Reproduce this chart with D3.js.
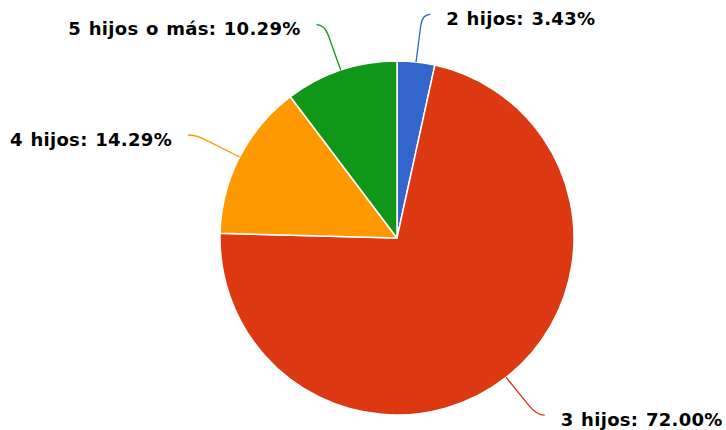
<!DOCTYPE html>
<html>
<head>
<meta charset="utf-8">
<script src="https://cdn.jsdelivr.net/npm/d3@7"></script>
<style>
  body { margin: 0; background: #fff; }
  text { font-family: "DejaVu Sans", sans-serif; font-weight: bold; }
</style>
</head>
<body>
<div id="chart"></div>
<script>
// data
const categories = ["2 hijos", "3 hijos", "4 hijos", "5 hijos o más"];
const values = [3.43, 72.00, 14.29, 10.29];
const colors = ["#3366cc", "#dc3912", "#ff9900", "#109618"];

const width = 726, height = 430;
const cx = 397, cy = 238, radius = 177;
const labelRadius = 225;

const svg = d3.select("#chart").append("svg")
    .attr("width", width)
    .attr("height", height);

const g = svg.append("g")
    .attr("transform", "translate(" + cx + "," + cy + ")");

const data = categories.map((c, i) => ({ name: c, value: values[i], color: colors[i] }));

const pie = d3.pie()
    .sort(null)
    .value(d => d.value);

const arc = d3.arc()
    .innerRadius(0)
    .outerRadius(radius);

const arcs = pie(data);

g.selectAll("path.slice")
    .data(arcs)
    .enter().append("path")
    .attr("class", "slice")
    .attr("d", arc)
    .attr("fill", d => d.data.color)
    .attr("stroke", "#fff")
    .attr("stroke-width", 1.5)
    .attr("stroke-linejoin", "round");

// labels + connectors
arcs.forEach(function(d) {
    let a = (d.startAngle + d.endAngle) / 2;
    let dir = Math.sin(a) >= 0 ? 1 : -1;
    let ex = Math.sin(a) * radius, ey = -Math.cos(a) * radius;
    let lx = Math.sin(a) * labelRadius + dir * 9;
    let ly = -Math.cos(a) * labelRadius;
    let kx = lx - dir * 8; // corner
    // point on the edge->corner segment, before the corner
    let dx = kx - ex, dy = ly - ey;
    let len = Math.sqrt(dx * dx + dy * dy);
    let t = Math.max(0, (len - 12) / len);
    let mx = ex + dx * t, my = ey + dy * t;

    g.append("path")
        .attr("d", "M" + ex + "," + ey + " L" + mx + "," + my +
            " Q" + kx + "," + ly + " " + lx + "," + ly)
        .attr("fill", "none")
        .attr("stroke", d.data.color)
        .attr("stroke-width", 1.3);

    g.append("text")
        .attr("x", lx + dir * 16)
        .attr("y", ly + 4.5)
        .attr("dy", "0.35em")
        .attr("text-anchor", dir > 0 ? "start" : "end")
        .attr("font-size", 18)
        .attr("letter-spacing", 0.3)
        .attr("word-spacing", 1)
        .attr("fill", "#000")
        .text(d.data.name + ": " + d.data.value.toFixed(2) + "%");
});
</script>
</body>
</html>
